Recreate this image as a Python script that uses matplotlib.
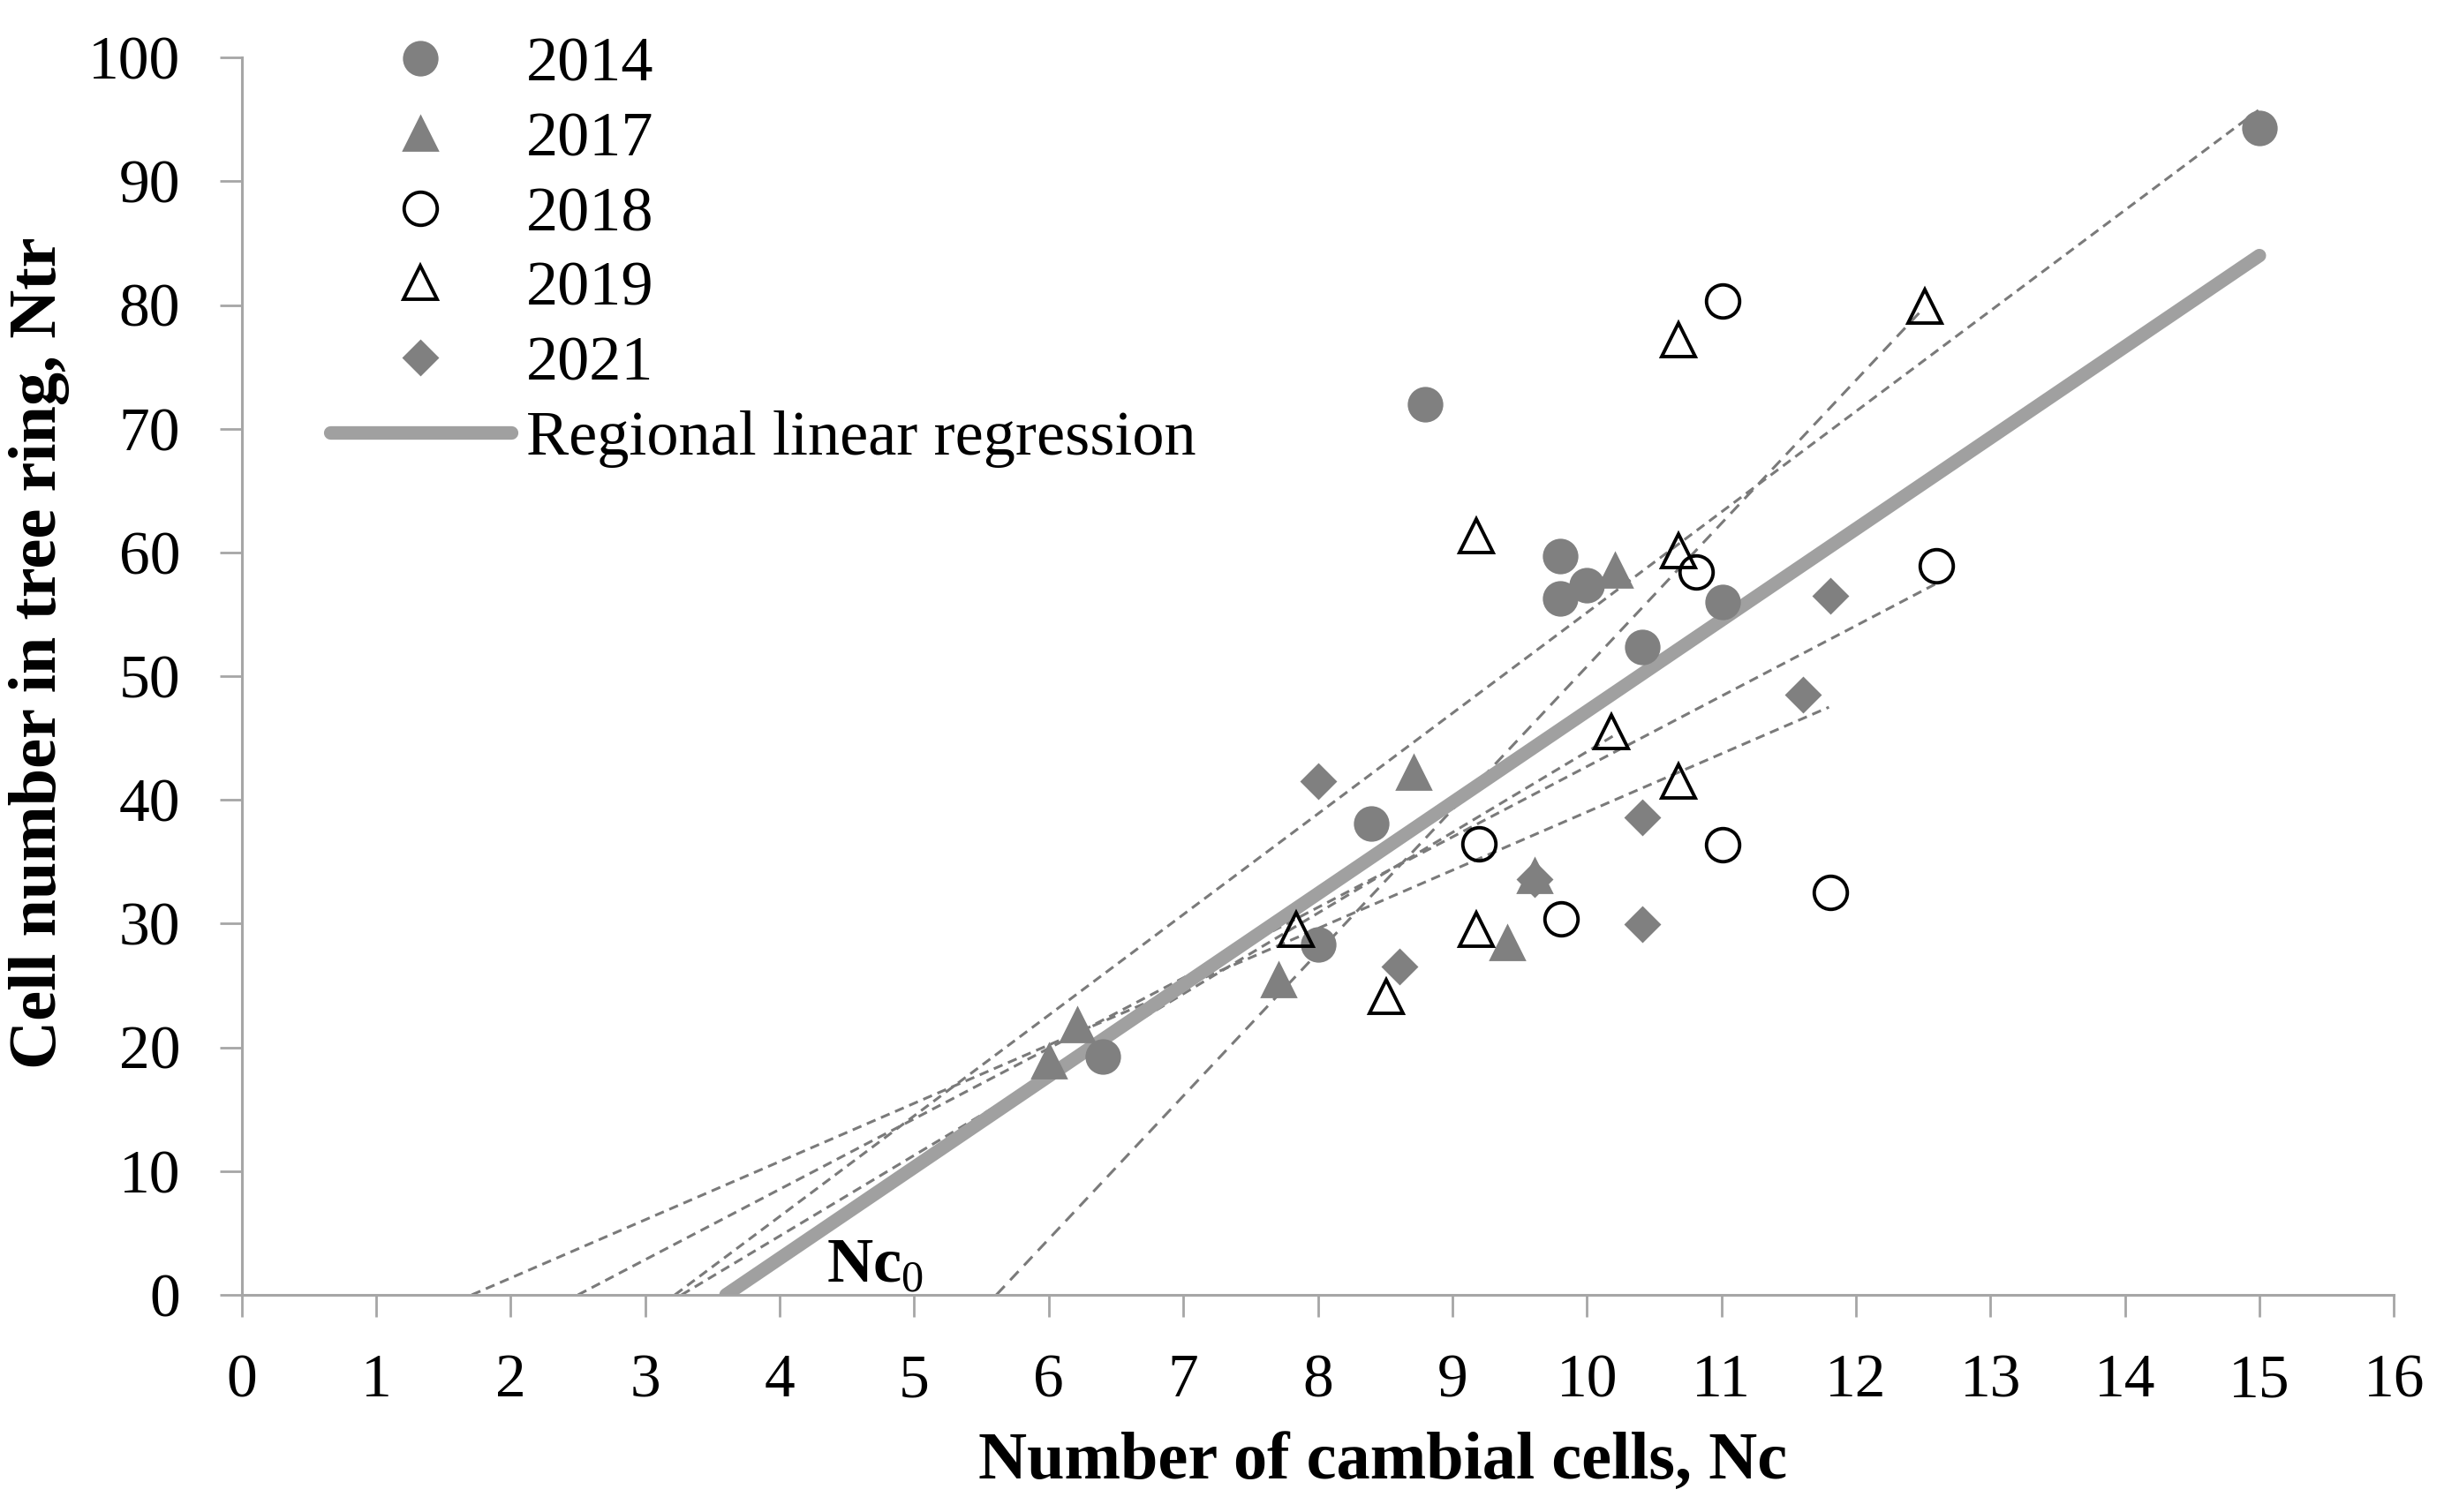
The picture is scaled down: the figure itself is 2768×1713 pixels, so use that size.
import matplotlib
matplotlib.use("Agg")
import matplotlib.pyplot as plt

plt.rcParams['font.family'] = ['Liberation Serif', 'DejaVu Serif']
plt.rcParams['mathtext.fontset'] = 'custom'
plt.rcParams['mathtext.rm'] = 'Liberation Serif'
plt.rcParams['mathtext.bf'] = 'Liberation Serif:bold'

# ---- data ----
x_2014 = [15.0, 8.80, 9.80, 9.80, 10.0, 11.01, 10.41, 8.40, 8.0, 6.40]
y_2014 = [94.3, 71.95, 59.7, 56.3, 57.36, 56.0, 52.37, 38.1, 28.3, 19.24]

x_2017 = [10.21, 8.71, 6.21, 6.0, 7.71, 9.41, 9.61]
y_2017 = [58.54, 42.2, 21.8, 18.9, 25.45, 28.47, 33.9]

x_2018 = [11.01, 10.81, 12.60, 9.20, 11.01, 9.81, 11.81]
y_2018 = [80.36, 58.41, 58.9, 36.44, 36.4, 30.4, 32.5]

x_2019 = [12.51, 10.68, 9.18, 10.68, 10.18, 10.68, 7.84, 9.18, 8.51]
y_2019 = [79.9, 77.2, 61.35, 60.14, 45.5, 41.5, 29.5, 29.5, 24.08]

x_2021 = [11.81, 11.61, 8.0, 10.41, 9.61, 8.61, 10.41]
y_2021 = [56.47, 48.5, 41.5, 38.57, 33.57, 26.57, 29.98]

# per-year trend lines: x-intercept, end x, end y
trend_years = ['2014', '2017', '2018', '2019', '2021']
trend_x0 = [3.22, 3.27, 2.50, 5.61, 1.71]
trend_x1 = [15.0, 10.2, 12.6, 12.5, 11.8]
trend_y1 = [95.8, 45.2, 57.5, 79.7, 47.5]

# regional regression line
reg_x = [3.60, 15.0]
reg_y = [0.0, 84.0]

x_ticks = list(range(0, 17))
y_ticks = list(range(0, 101, 10))

# ---- figure ----
fig = plt.figure(figsize=(13.84, 8.565), dpi=200)
ax = fig.add_axes([0.0989, 0.1436, 0.9795 - 0.0989, 0.9619 - 0.1436])

gray_fill = '#808080'
dash_col = '#7a7a7a'

for yr, x0, x1, y1 in zip(trend_years, trend_x0, trend_x1, trend_y1):
    dash = (4.5, 3) if yr == '2019' else (3.5, 2.2)
    ax.plot([x0, x1], [0, y1], color=dash_col, lw=1.1, dashes=dash, zorder=2)

reg_line, = ax.plot(reg_x, reg_y, color='#a0a0a0', lw=5.5, solid_capstyle='round', zorder=3)

ms_c = 13.5
h14, = ax.plot(x_2014, y_2014, 'o', ms=ms_c, mfc=gray_fill, mec=gray_fill, ls='none', zorder=4)
h17, = ax.plot(x_2017, y_2017, '^', ms=13.5, mfc=gray_fill, mec=gray_fill, ls='none', zorder=4)
h18, = ax.plot(x_2018, y_2018, 'o', ms=ms_c, mfc='none', mec='black', mew=1.4, ls='none', zorder=5)
h19, = ax.plot(x_2019, y_2019, '^', ms=13.5, mfc='none', mec='black', mew=1.4, ls='none', zorder=5)
h21, = ax.plot(x_2021, y_2021, 'D', ms=9.5, mfc=gray_fill, mec=gray_fill, ls='none', zorder=4)

ax.set_xlim(0, 16)
ax.set_ylim(0, 100)
ax.set_xticks(x_ticks)
ax.set_yticks(y_ticks)
for s in ['top', 'right']:
    ax.spines[s].set_visible(False)
for s in ['left', 'bottom']:
    ax.spines[s].set_color('#a6a6a6')
    ax.spines[s].set_linewidth(1.1)
ax.tick_params(axis='both', direction='out', length=9, width=1.0, color='#a6a6a6',
               labelsize=25, labelcolor='black')
ax.tick_params(axis='x', pad=15)
ax.tick_params(axis='y', pad=16)

ax.set_xlabel('Number of cambial cells, Nc', fontsize=27.5, fontweight='bold', va='center')
ax.xaxis.set_label_coords(0.53, -0.135)
ax.set_ylabel('Cell number in tree ring, Ntr', fontsize=27.5, fontweight='bold', va='center')
ax.yaxis.set_label_coords(-0.094, 0.519)

ax.text(4.35, 1.0, r'$\mathbf{Nc}_{0}$', fontsize=26, ha='left', va='baseline', zorder=6)

leg_handles = [h14, h17, h18, h19, h21, reg_line]
leg_labels = ['2014', '2017', '2018', '2019', '2021', 'Regional linear regression']
leg = fig.legend(leg_handles, leg_labels, loc='upper left', bbox_to_anchor=(0.135, 0.976),
                 frameon=False, fontsize=26, handlelength=2.84, handletextpad=0.24,
                 labelspacing=0.265, borderpad=0, borderaxespad=0, numpoints=1)

fig.savefig('out.png', dpi=200)
